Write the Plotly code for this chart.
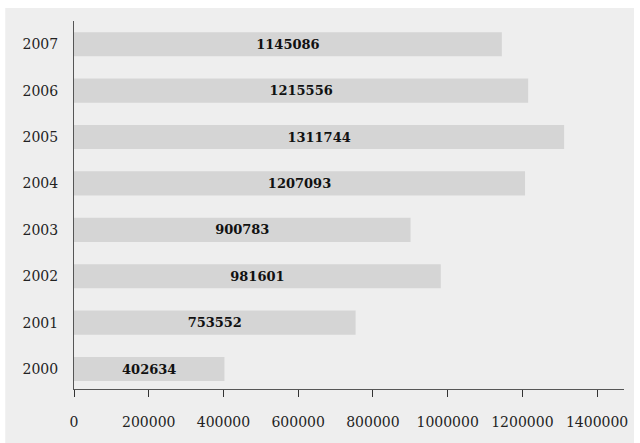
import plotly.graph_objects as go

years = ["2000", "2001", "2002", "2003", "2004", "2005", "2006", "2007"]
values = [402634, 753552, 981601, 900783, 1207093, 1311744, 1215556, 1145086]
x_ticks = [0, 200000, 400000, 600000, 800000, 1000000, 1200000, 1400000]

W, H = 640, 443
L, R, T, B = 74, 14, 21, 54
pw, ph = W - L - R, H - T - B
FONT = "DejaVu Serif"

fig = go.Figure(go.Bar(
    x=values, y=years, orientation="h",
    marker=dict(color="#d5d5d5", line=dict(width=0)),
    width=0.52,
    text=[str(v) for v in values],
    textposition="inside", insidetextanchor="middle", textangle=0,
    textfont=dict(family=FONT, size=13, color="#111111", weight="bold"),
    hoverinfo="skip",
))

# grey card behind the chart
fig.add_shape(type="rect", xref="paper", yref="paper", layer="below",
              x0=(5 - L) / pw, x1=(636 - L) / pw,
              y0=(H - B - 443) / ph, y1=(H - B - 8) / ph,
              fillcolor="#eeeeee", line=dict(width=0))

fig.update_layout(
    width=W, height=H,
    margin=dict(l=L, r=R, t=T, b=B, pad=0),
    paper_bgcolor="white", plot_bgcolor="rgba(0,0,0,0)",
    font=dict(family=FONT, size=14, color="#222222"),
    showlegend=False, bargap=0.48,
)
fig.update_xaxes(range=[0, pw / 75 * 200000], tickvals=x_ticks,
                 ticktext=[str(v) for v in x_ticks],
                 showgrid=False, zeroline=False, showline=True,
                 linecolor="#555555", linewidth=1,
                 ticks="outside", ticklen=7, tickcolor="#333333",
                 ticklabelstandoff=13, tickfont=dict(size=14))
fig.update_yaxes(type="category", range=[-0.43, 7.5],
                 showgrid=False, zeroline=False, showline=True,
                 linecolor="#555555", linewidth=1, ticks="",
                 ticklabelstandoff=12, tickfont=dict(size=14))

fig.write_html("out.html")
